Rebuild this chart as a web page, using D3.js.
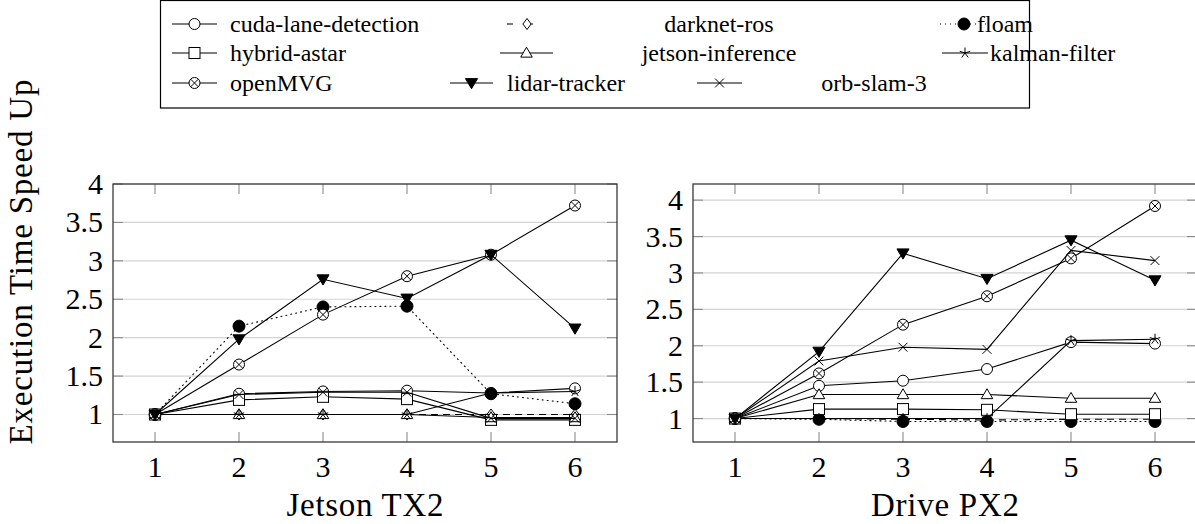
<!DOCTYPE html>
<html>
<head>
<meta charset="utf-8">
<script src="https://cdn.jsdelivr.net/npm/d3@7"></script>
</head>
<body style="margin:0;background:#fff">
<svg id="chart" width="1195" height="524" font-family="Liberation Serif"></svg>
<script>
// Thread counts on the x axis
const threads = [1, 2, 3, 4, 5, 6];

// Speed-up per benchmark, Jetson TX2
const tx2CudaLane   = [1, 1.27, 1.30, 1.31, 1.28, 1.34];
const tx2Darknet    = [1, 1.00, 1.00, 1.00, 1.00, 1.00];
const tx2Floam      = [1, 2.15, 2.40, 2.41, 1.27, 1.14];
const tx2Hybrid     = [1, 1.19, 1.23, 1.20, 0.93, 0.93];
const tx2Jetson     = [1, 1.00, 1.00, 1.00, 0.96, 0.96];
const tx2Kalman     = [1, 1.00, 1.00, 1.00, 1.28, 1.30];
const tx2OpenMVG    = [1, 1.65, 2.30, 2.80, 3.08, 3.72];
const tx2Lidar      = [1, 1.98, 2.76, 2.51, 3.08, 2.12];
const tx2OrbSlam    = [1, 1.26, 1.29, 1.29, 0.95, 0.95];

// Speed-up per benchmark, Drive PX2
const px2CudaLane   = [1, 1.45, 1.52, 1.68, 2.05, 2.03];
const px2Darknet    = [1, 1.00, 0.99, 0.98, 0.99, 0.99];
const px2Floam      = [1, 0.99, 0.96, 0.96, 0.96, 0.96];
const px2Hybrid     = [1, 1.13, 1.13, 1.12, 1.06, 1.06];
const px2Jetson     = [1, 1.33, 1.33, 1.33, 1.28, 1.28];
const px2Kalman     = [1, 1.00, 1.00, 1.00, 2.07, 2.09];
const px2OpenMVG    = [1, 1.62, 2.29, 2.68, 3.20, 3.92];
const px2Lidar      = [1, 1.92, 3.27, 2.92, 3.45, 2.90];
const px2OrbSlam    = [1, 1.79, 1.98, 1.95, 3.31, 3.17];

// Legend labels, in plotting order
const seriesNames = ["cuda-lane-detection", "darknet-ros", "floam",
                     "hybrid-astar", "jetson-inference", "kalman-filter",
                     "openMVG", "lidar-tracker", "orb-slam-3"];

// Axis ticks and titles
const tx2YTicks = [1, 1.5, 2, 2.5, 3, 3.5, 4];
const px2YTicks = [1, 1.5, 2, 2.5, 3, 3.5, 4];
const xTicks = [1, 2, 3, 4, 5, 6];
const yTitle = "Execution Time Speed Up";
const tx2Title = "Jetson TX2";
const px2Title = "Drive PX2";

// Per-series look: marker and dash pattern
const styles = [
  { mark: "circle",   dash: null },
  { mark: "diamond",  dash: "7,5" },
  { mark: "dot",      dash: "1,4" },
  { mark: "square",   dash: null },
  { mark: "triangle", dash: null },
  { mark: "star",     dash: null },
  { mark: "otimes",   dash: null },
  { mark: "tridown",  dash: null },
  { mark: "cross",    dash: null }
];

const FONT = "Liberation Serif";
const svg = d3.select("#chart");
const fmt = d => String(d);

function drawMarker(g, type, x, y) {
  const r = 5.5;
  const s = g.append("g").attr("transform", `translate(${x},${y})`)
    .attr("stroke", "#000").attr("stroke-width", 1);
  switch (type) {
    case "circle":
      s.append("circle").attr("r", r).attr("fill", "#fff"); break;
    case "dot":
      s.append("circle").attr("r", 6).attr("fill", "#000"); break;
    case "diamond":
      s.append("path").attr("d", `M0,${-r}L${r*0.75},0L0,${r}L${-r*0.75},0Z`).attr("fill", "#fff"); break;
    case "square":
      s.append("rect").attr("x", -r).attr("y", -r).attr("width", 2*r).attr("height", 2*r).attr("fill", "#fff"); break;
    case "triangle":
      s.append("path").attr("d", `M0,${-r*1.05}L${r*1.05},${r*0.75}L${-r*1.05},${r*0.75}Z`).attr("fill", "#fff"); break;
    case "tridown":
      s.append("path").attr("d", `M0,${r*1.05}L${r*1.1},${-r*0.8}L${-r*1.1},${-r*0.8}Z`).attr("fill", "#000"); break;
    case "star": {
      let d = "";
      for (let i = 0; i < 5; i++) {
        const a = -Math.PI / 2 + i * 2 * Math.PI / 5;
        d += `M0,0L${(r*Math.cos(a)).toFixed(2)},${(r*Math.sin(a)).toFixed(2)}`;
      }
      s.append("path").attr("d", d).attr("fill", "none"); break;
    }
    case "otimes": {
      s.append("circle").attr("r", r).attr("fill", "#fff");
      const k = r * 0.707;
      s.append("path").attr("d", `M${-k},${-k}L${k},${k}M${-k},${k}L${k},${-k}`); break;
    }
    case "cross": {
      const k = r * 0.8;
      s.append("path").attr("d", `M${-k},${-k}L${k},${k}M${-k},${k}L${k},${-k}`); break;
    }
  }
}

function drawPanel(opt) {
  const { left, right, top, bottom, yDomain, yTicks, series, title, titleX } = opt;
  const x = d3.scaleLinear().domain([0.5, 6.5]).range([left, right]);
  const y = d3.scaleLinear().domain(yDomain).range([bottom, top]);
  const g = svg.append("g");

  // grid
  g.append("g").selectAll("line").data(yTicks).join("line")
    .attr("x1", left).attr("x2", right)
    .attr("y1", d => y(d)).attr("y2", d => y(d))
    .attr("stroke", "#d3d3d3").attr("stroke-width", 1.2);

  // tick marks (inside, on all four sides)
  const tl = 10;
  const tg = g.append("g").attr("stroke", "#8c8c8c").attr("stroke-width", 1.1);
  xTicks.forEach(t => {
    tg.append("line").attr("x1", x(t)).attr("x2", x(t)).attr("y1", bottom).attr("y2", bottom - tl);
    tg.append("line").attr("x1", x(t)).attr("x2", x(t)).attr("y1", top).attr("y2", top + tl);
  });
  yTicks.forEach(t => {
    tg.append("line").attr("x1", left).attr("x2", left + tl).attr("y1", y(t)).attr("y2", y(t));
    tg.append("line").attr("x1", right).attr("x2", right - tl).attr("y1", y(t)).attr("y2", y(t));
  });

  // series
  series.forEach((vals, i) => {
    const st = styles[i];
    const line = d3.line().x((d, j) => x(threads[j])).y(d => y(d));
    g.append("path").attr("d", line(vals)).attr("fill", "none")
      .attr("stroke", "#000").attr("stroke-width", 1.1)
      .attr("stroke-dasharray", st.dash)
      .attr("stroke-linecap", st.mark === "dot" ? "round" : "butt");
    vals.forEach((v, j) => drawMarker(g, st.mark, x(threads[j]), y(v)));
  });

  // frame
  g.append("rect").attr("x", left).attr("y", top)
    .attr("width", right - left).attr("height", bottom - top)
    .attr("fill", "none").attr("stroke", "#3a3a3a").attr("stroke-width", 1.3);

  // tick labels
  g.append("g").selectAll("text").data(xTicks).join("text")
    .attr("font-family", FONT)
    .attr("x", d => x(d)).attr("y", bottom + 35)
    .attr("text-anchor", "middle").attr("font-size", 30).text(fmt);
  g.append("g").selectAll("text").data(yTicks).join("text")
    .attr("font-family", FONT)
    .attr("x", left - 10).attr("y", d => y(d) + 10)
    .attr("text-anchor", "end").attr("font-size", 30).text(fmt);

  // axis title
  g.append("text").attr("font-family", FONT)
    .attr("x", titleX).attr("y", 516)
    .attr("text-anchor", "middle").attr("font-size", 33)
    .attr("textLength", opt.titleLen).attr("lengthAdjust", "spacing")
    .text(title);
}

drawPanel({
  left: 113, right: 617, top: 184, bottom: 442,
  yDomain: [0.642, 4.0], yTicks: tx2YTicks,
  series: [tx2CudaLane, tx2Darknet, tx2Floam, tx2Hybrid, tx2Jetson, tx2Kalman, tx2OpenMVG, tx2Lidar, tx2OrbSlam],
  title: tx2Title, titleX: 365, titleLen: 157
});
drawPanel({
  left: 693, right: 1197, top: 184, bottom: 442,
  yDomain: [0.678, 4.222], yTicks: px2YTicks,
  series: [px2CudaLane, px2Darknet, px2Floam, px2Hybrid, px2Jetson, px2Kalman, px2OpenMVG, px2Lidar, px2OrbSlam],
  title: px2Title, titleX: 945, titleLen: 148
});

// shared y-axis title
svg.append("text").attr("font-family", FONT)
  .attr("transform", "translate(32,262) rotate(-90)")
  .attr("text-anchor", "middle").attr("font-size", 33)
  .attr("textLength", 365).attr("lengthAdjust", "spacing")
  .text(yTitle);

// legend
const legend = svg.append("g");
legend.append("rect").attr("x", 160.5).attr("y", 0.5).attr("width", 869).attr("height", 107.5)
  .attr("fill", "#fff").attr("stroke", "#000").attr("stroke-width", 1.2);

// sample line spans, marker centres and text positions for each legend entry
const legendItems = [
  { i: 0, x0: 172, x1: 217, y: 24, tx: 230, anchor: "start" },
  { i: 1, x0: 507, x1: 547, y: 24, tx: 719, anchor: "middle" },
  { i: 2, x0: 940, x1: 988, y: 24, tx: 1005, anchor: "middle" },
  { i: 3, x0: 172, x1: 217, y: 53, tx: 230, anchor: "start" },
  { i: 4, x0: 500, x1: 553, y: 53, tx: 719, anchor: "middle" },
  { i: 5, x0: 942, x1: 988, y: 53, tx: 990, anchor: "start" },
  { i: 6, x0: 172, x1: 217, y: 83, tx: 230, anchor: "start" },
  { i: 7, x0: 450, x1: 493, y: 83, tx: 507, anchor: "start" },
  { i: 8, x0: 697, x1: 742, y: 83, tx: 874, anchor: "middle" }
];
legendItems.forEach(it => {
  const st = styles[it.i];
  legend.append("line").attr("x1", it.x0).attr("x2", it.x1).attr("y1", it.y).attr("y2", it.y)
    .attr("stroke", "#000").attr("stroke-width", 1.1)
    .attr("stroke-dasharray", st.dash ? (st.mark === "dot" ? "1,4" : "6,14") : null);
  drawMarker(legend, st.mark, (it.x0 + it.x1) / 2, it.y);
  legend.append("text").attr("font-family", FONT)
    .attr("x", it.tx).attr("y", it.y + 8)
    .attr("text-anchor", it.anchor).attr("font-size", 24).text(seriesNames[it.i]);
});
</script>
</body>
</html>
